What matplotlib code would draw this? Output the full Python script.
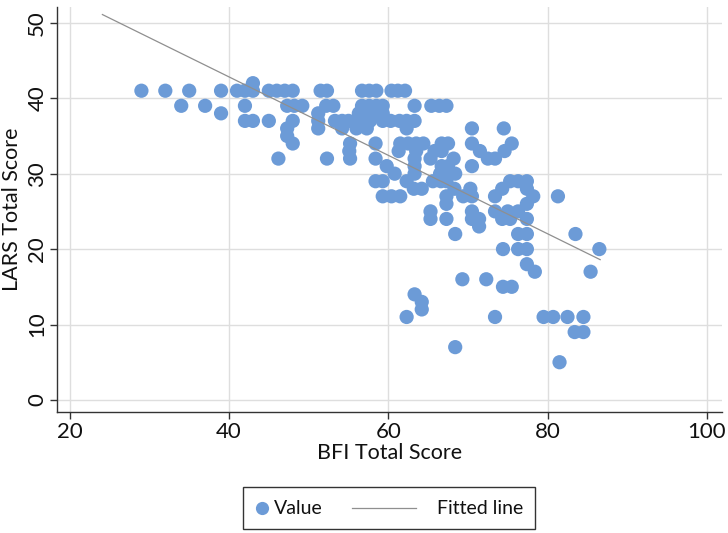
import matplotlib
matplotlib.use("Agg")
import matplotlib.pyplot as plt
from matplotlib.lines import Line2D
from matplotlib.offsetbox import (AnchoredOffsetbox, DrawingArea, HPacker,
                                  TextArea)

plt.rcParams['font.family'] = ['Lato', 'DejaVu Sans']

# BFI (x) values grouped by LARS (y) score
rows = {
    42: [43],
    41: [29, 32, 35, 39, 41, 42, 43, 45, 46, 47, 48, 51.5, 52.3, 56.7, 57.6, 58.5, 60.4, 61.2, 62.1],
    39: [34, 37, 42, 47.3, 48.2, 49.2, 52.2, 53.1, 56.7, 57.6, 58.5, 59.3, 63.3, 65.4, 66.4, 67.3],
    38: [39, 51.2, 56.3, 57.3, 58.3, 59.3],
    37: [42, 43, 45, 48, 51.2, 53.3, 54.2, 55, 56, 56.8, 57.7, 59.3, 60.3, 61.4, 62.3, 63.3],
    36: [47.3, 51.2, 54.2, 56, 57.3, 62.3, 70.5, 74.5],
    35: [47.3],
    34: [48, 55.2, 58.4, 61.5, 62.5, 63.5, 64.4, 66.7, 67.5, 70.5, 75.5],
    33: [55.1, 61.3, 63.5, 65.8, 66.7, 71.5, 74.6],
    32: [46.2, 52.3, 55.2, 58.4, 63.3, 65.3, 68.2, 72.5, 73.4],
    31: [59.8, 63.3, 66.7, 67.5, 70.5],
    30: [60.8, 63.3, 66.5, 67.5, 68.4],
    29: [58.4, 59.3, 62.3, 65.6, 66.6, 67.3, 75.3, 76.3, 77.4],
    28: [63.2, 64.2, 68.3, 70.3, 74.3, 77.4],
    27: [59.3, 60.4, 61.5, 67.3, 69.4, 70.5, 73.4, 78.2, 81.3],
    26: [67.3, 77.4],
    25: [65.3, 70.5, 73.4, 75.0, 76.3],
    24: [65.3, 67.3, 70.5, 71.4, 74.3, 75.3, 77.4],
    23: [71.4],
    22: [68.4, 76.3, 77.4, 83.5],
    20: [74.4, 76.3, 77.4, 86.5],
    18: [77.4],
    17: [78.4, 85.4],
    16: [69.3, 72.3],
    15: [74.4, 75.5],
    14: [63.3],
    13: [64.2],
    12: [64.2],
    11: [62.3, 73.4, 79.5, 80.7, 82.5, 84.5],
    9: [83.4, 84.5],
    7: [68.4],
    5: [81.5],
}
bfi = [x for y, xs in rows.items() for x in xs]
lars = [y for y, xs in rows.items() for x in xs]

# Fitted line end points
fit_x = [24.1, 86.6]
fit_y = [51.1, 18.6]

x_ticks = [20, 40, 60, 80, 100]
y_ticks = [0, 10, 20, 30, 40, 50]
legend_labels = ['Value', 'Fitted line']

W, H = 728, 533
fig = plt.figure(figsize=(W / 100, H / 100), dpi=100)
ax = fig.add_axes([57 / W, 1 - 412 / H, (722 - 57) / W, (412 - 7) / H])

point_color = '#6C9BD7'
line_color = '#8F8F8F'
text_color = '#111111'
FS = 16

ax.grid(True, color='#DEDEDE', linewidth=1.0, zorder=0)
ax.set_axisbelow(True)
ax.scatter(bfi, lars, s=105, color=point_color, edgecolors='none', zorder=3)
ax.plot(fit_x, fit_y, color=line_color, linewidth=0.9, zorder=4)

ax.set_xlim(18.4, 101.9)
ax.set_ylim(-1.6, 52.1)
ax.set_xticks(x_ticks)
ax.set_yticks(y_ticks)
ax.tick_params(axis='both', direction='out', length=5, width=1, color='#333333',
               labelsize=FS, labelcolor=text_color, pad=2)
for lab in ax.get_yticklabels():
    lab.set_rotation(90)
    lab.set_va('center')

for s in ['top', 'right']:
    ax.spines[s].set_visible(False)
for s in ['left', 'bottom']:
    ax.spines[s].set_color('#333333')
    ax.spines[s].set_linewidth(1.0)

ax.set_xlabel('BFI Total Score', fontsize=FS - 0.5, color=text_color, labelpad=1)
ax.set_ylabel('LARS Total Score', fontsize=FS - 0.5, color=text_color, labelpad=4)

# Legend built from offset boxes: marker + text, line + text
mk = DrawingArea(10, 14, 0, 0)
mk.add_artist(Line2D([5], [7], marker='o', linestyle='none', markersize=9.5,
                     markerfacecolor=point_color, markeredgecolor='none'))
ln = DrawingArea(46, 14, 0, 0)
ln.add_artist(Line2D([0, 46], [7, 7], color=line_color, linewidth=0.9))
t1 = TextArea(legend_labels[0], textprops=dict(fontsize=14, color=text_color))
t2 = TextArea(legend_labels[1], textprops=dict(fontsize=14, color=text_color))
box = HPacker(children=[HPacker(children=[mk, t1], sep=4, align='center'),
                        HPacker(children=[ln, t2], sep=15, align='center')],
              sep=21, align='center')
anch = AnchoredOffsetbox(loc='center', child=box, pad=0.6, borderpad=0,
                         frameon=True, prop=dict(size=14),
                         bbox_to_anchor=(389 / W, 1 - 508 / H),
                         bbox_transform=fig.transFigure)
anch.patch.set_boxstyle('square', pad=0)
anch.patch.set_edgecolor('#333333')
anch.patch.set_linewidth(1.0)
fig.add_artist(anch)

fig.savefig('out.png', dpi=100)
